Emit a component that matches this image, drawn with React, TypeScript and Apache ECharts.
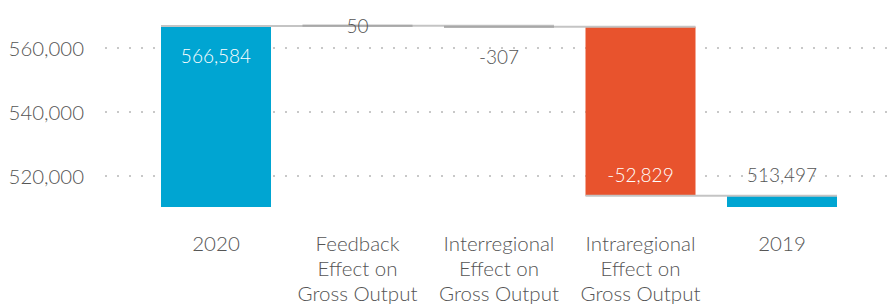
import React, { useEffect, useRef } from "react";
import * as echarts from "echarts";

const categories = [
  "2020",
  "Feedback\nEffect on\nGross Output",
  "Interregional\nEffect on\nGross Output",
  "Intraregional\nEffect on\nGross Output",
  "2019",
];
const values = [566584, 50, -307, -52829, 513497];
const isTotal = [true, false, false, false, true];
const yTicks = [520000, 540000, 560000];

const BASE = 510000;
const FONT = "Lato";
const TEXT = "#555555";
const barColors = ["#00a5d2", "#a8a8a8", "#a8a8a8", "#e8532d", "#00a5d2"];
const labelColors = ["#ffffff", TEXT, TEXT, "#ffffff", TEXT];
const labelOffsets = [30, 0, 30, -21, -21];

function fmt(v: number) {
  const s = Math.abs(v).toString().replace(/\B(?=(\d{3})+(?!\d))/g, ",");
  return v < 0 ? "-" + s : s;
}

export default function App() {
  const ref = useRef<HTMLDivElement>(null);
  useEffect(() => {
    document.body.style.margin = "0";
    if (!ref.current) return;
    const chart = echarts.init(ref.current, undefined, { renderer: "svg" });

    let running = 0;
    const items = values.map((v, i) => {
      let start: number, end: number;
      if (isTotal[i]) {
        start = BASE;
        end = v;
        running = v;
      } else {
        start = running;
        end = running + v;
        running = end;
      }
      return [i, start, end, v];
    });

    const BAR_W = 110;

    chart.setOption({
      animation: false,
      grid: [
        { left: 105, right: 2, top: 48, height: 128, outerBoundsMode: "none", containLabel: false },
        { left: 145.25, width: 707.5, top: 16, height: 191, outerBoundsMode: "none", containLabel: false },
      ],
      xAxis: [
        { gridIndex: 0, type: "value", show: false },
        {
          gridIndex: 1,
          type: "category",
          data: categories,
          axisLine: { show: false },
          axisTick: { show: false },
          axisLabel: {
            interval: 0,
            margin: 23,
            fontFamily: FONT,
            fontWeight: 300,
            fontSize: 20.5,
            lineHeight: 25.3,
            color: TEXT,
          },
        },
      ],
      yAxis: [
        {
          gridIndex: 0,
          type: "value",
          min: yTicks[0],
          max: yTicks[yTicks.length - 1],
          interval: yTicks[1] - yTicks[0],
          axisLine: { show: false },
          axisTick: { show: false },
          axisLabel: {
            margin: 21,
            fontFamily: FONT,
            fontWeight: 300,
            fontSize: 20.4,
            color: TEXT,
            formatter: (v: number) => fmt(v),
          },
          splitLine: {
            show: true,
            lineStyle: { color: "#c8c8c8", width: 2, type: [2, 10] },
          },
        },
        { gridIndex: 1, type: "value", min: BASE, max: 569687.5, show: false },
      ],
      series: [
        {
          type: "custom",
          xAxisIndex: 1,
          yAxisIndex: 1,
          clip: false,
          data: items,
          encode: { x: 0, y: [1, 2] },
          renderItem: (params: any, api: any) => {
            const i = api.value(0);
            const start = api.value(1);
            const end = api.value(2);
            const v = api.value(3);
            const p0 = api.coord([i, start]);
            const p1 = api.coord([i, end]);
            const cx = p0[0];
            const top = Math.min(p0[1], p1[1]);
            let h = Math.abs(p0[1] - p1[1]);
            const small = h < 2;
            let y = top;
            if (small) {
              y = p1[1] - 1;
              h = 2;
            }
            const children: any[] = [
              {
                type: "rect",
                z2: small ? 10 : 0,
                shape: { x: cx - BAR_W / 2, y, width: BAR_W, height: h },
                style: { fill: barColors[i] },
              },
            ];
            if (i < values.length - 1) {
              const nx = api.coord([i + 1, end])[0];
              children.push({
                type: "line",
                z2: 5,
                shape: {
                  x1: cx - BAR_W / 2,
                  y1: p1[1],
                  x2: nx + BAR_W / 2,
                  y2: p1[1],
                },
                style: { stroke: "#c4c4c4", lineWidth: 2 },
              });
            }
            children.push({
              type: "text",
              z2: 20,
              x: cx,
              y: p1[1] + labelOffsets[i],
              style: {
                text: fmt(v),
                fill: labelColors[i],
                font: `300 19px ${FONT}`,
                align: "center",
                verticalAlign: "middle",
              },
            });
            return { type: "group", children };
          },
        },
      ],
    });
    return () => chart.dispose();
  }, []);
  return <div ref={ref} style={{ width: 893, height: 304 }} />;
}
